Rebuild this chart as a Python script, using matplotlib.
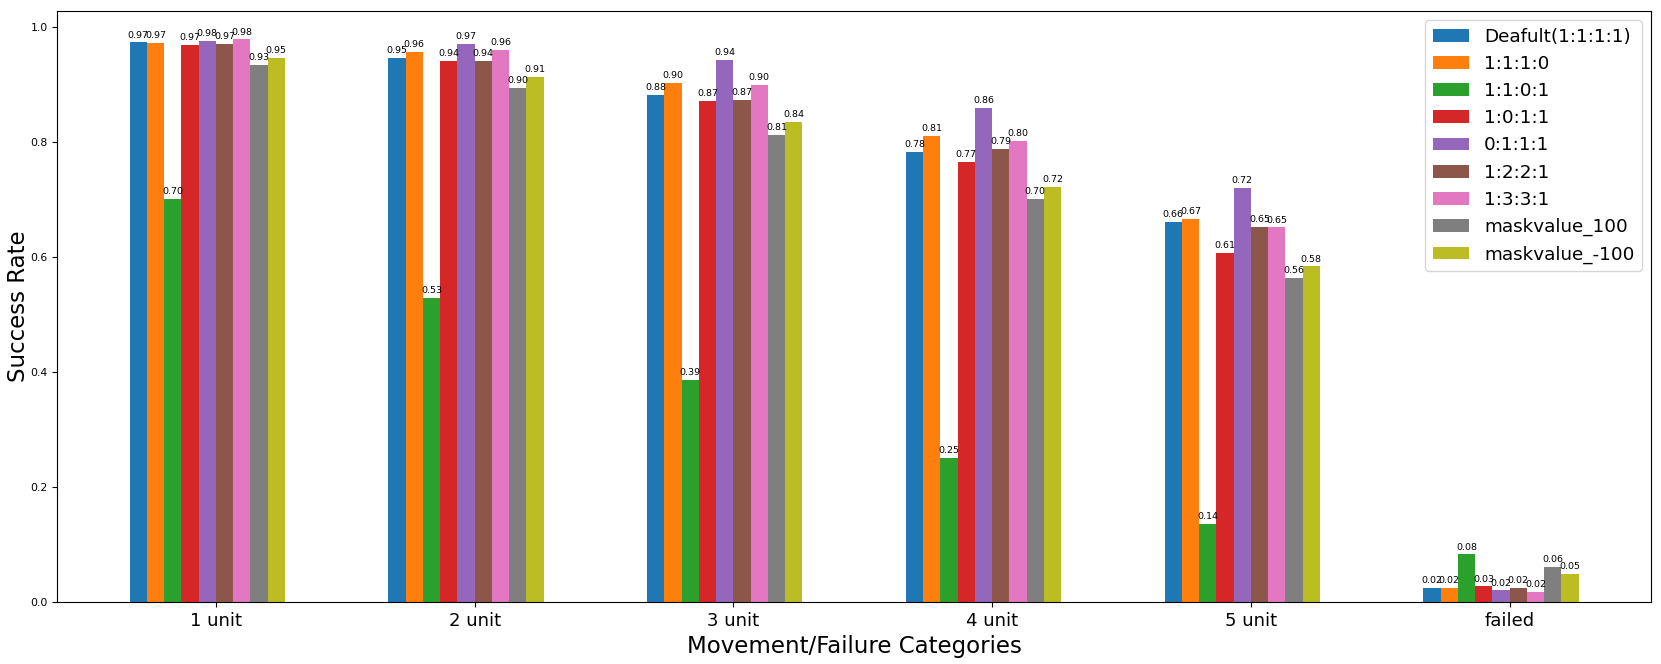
import numpy as np
import matplotlib
matplotlib.use('Agg')
import matplotlib.pyplot as plt

# Data
categories = ['1 unit', '2 unit', '3 unit', '4 unit', '5 unit', 'failed']
series_names = ['Deafult(1:1:1:1)', '1:1:1:0', '1:1:0:1', '1:0:1:1', '0:1:1:1',
                '1:2:2:1', '1:3:3:1', 'maskvalue_100', 'maskvalue_-100']

deafult = [0.974, 0.947, 0.883, 0.783, 0.662, 0.024]
r1110 = [0.973, 0.957, 0.903, 0.811, 0.666, 0.024]
r1101 = [0.702, 0.529, 0.387, 0.251, 0.136, 0.083]
r1011 = [0.970, 0.942, 0.872, 0.766, 0.607, 0.027]
r0111 = [0.977, 0.971, 0.943, 0.860, 0.720, 0.020]
r1221 = [0.971, 0.941, 0.874, 0.788, 0.653, 0.024]
r1331 = [0.979, 0.961, 0.900, 0.802, 0.652, 0.017]
mask_100 = [0.934, 0.895, 0.813, 0.701, 0.564, 0.061]
mask_m100 = [0.947, 0.914, 0.836, 0.723, 0.584, 0.049]

values = [deafult, r1110, r1101, r1011, r0111, r1221, r1331, mask_100, mask_m100]

# Plot
fig, ax = plt.subplots(figsize=(16.61, 6.64), dpi=100)
fig.subplots_adjust(left=0.0345, right=0.994, top=0.983, bottom=0.0934)

x = np.arange(len(categories))
bar_width = 0.6 / len(series_names)

for i, (name, vals) in enumerate(zip(series_names, values)):
    offset = (i - len(series_names) / 2) * bar_width
    bars = ax.bar(x + offset, vals, bar_width, label=name)
    for b in bars:
        h = b.get_height()
        ax.annotate(f'{h:.2f}', xy=(b.get_x() + b.get_width() / 2, h),
                    xytext=(0, 2), textcoords='offset points',
                    ha='center', va='bottom', fontsize=6.8)

ax.set_xlabel('Movement/Failure Categories', fontsize=16.5)
ax.set_ylabel('Success Rate', fontsize=16.5, labelpad=0)
ax.set_xticks(x)
ax.set_xticklabels(categories, fontsize=13)
ax.tick_params(axis='y', labelsize=7.8)
ax.legend(loc='upper right', fontsize=13.2)

plt.savefig('out.png', dpi=100)
